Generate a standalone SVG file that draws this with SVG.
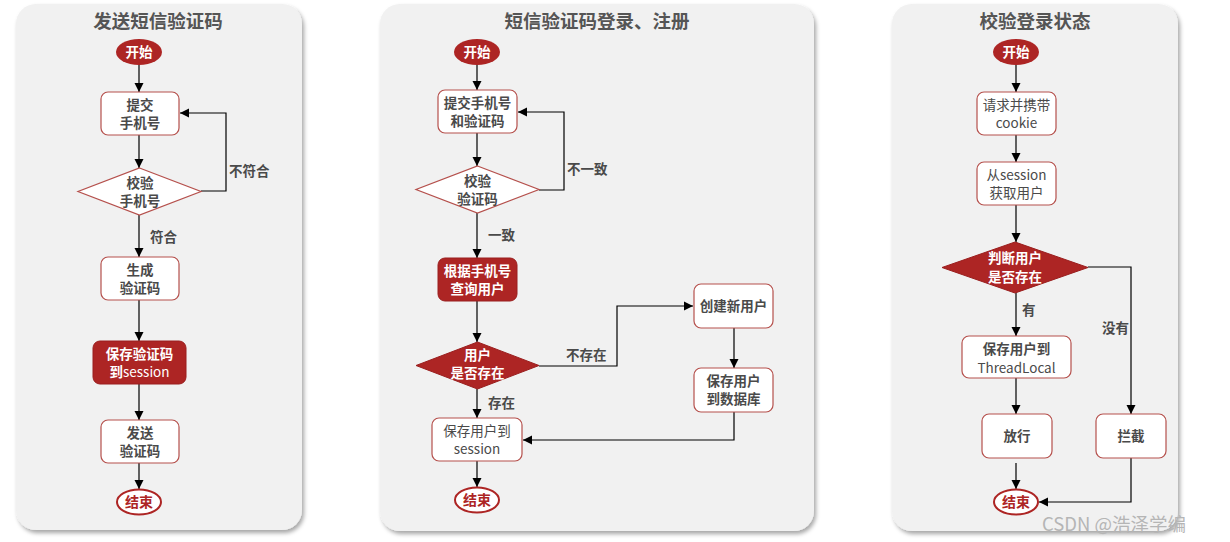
<svg xmlns="http://www.w3.org/2000/svg" width="1230" height="542" viewBox="0 0 1230 542">
<defs>
<filter id="sh" x="-5%" y="-5%" width="115%" height="115%">
<feDropShadow dx="2" dy="3" stdDeviation="2" flood-color="#000" flood-opacity="0.35"/>
</filter>
<marker id="ar" markerWidth="10" markerHeight="10" refX="9" refY="5" orient="auto" markerUnits="userSpaceOnUse">
<path d="M0,0.5 L9,5 L0,9.5 Z" fill="#000"/>
</marker>
</defs>
<style>
text{font-family:"Noto Sans CJK SC","Noto Sans",sans-serif;}
.panel{fill:#f1f1f1;filter:url(#sh);}
.title{font-size:18.5px;font-weight:bold;fill:#555;text-anchor:middle;}
.box{fill:#fff;stroke:#b5504c;stroke-width:1.2;}
.rbox{fill:#ad2524;stroke:#9a1e1e;stroke-width:1;}
.start{fill:#ad2524;}
.end{fill:#fff;stroke:#ad2524;stroke-width:2;}
.t{font-size:13.5px;font-weight:bold;fill:#4a4a4a;text-anchor:middle;dominant-baseline:central;}
.tn{font-size:13.5px;fill:#4a4a4a;text-anchor:middle;dominant-baseline:central;}
.tw{font-size:13.5px;font-weight:bold;fill:#fff;text-anchor:middle;dominant-baseline:central;}
.tr{font-size:14px;font-weight:bold;fill:#ad2524;text-anchor:middle;dominant-baseline:central;}
.lbl{font-size:13.5px;font-weight:bold;fill:#4a4a4a;dominant-baseline:central;}
.c{fill:none;stroke:#000;stroke-width:1.2;marker-end:url(#ar);}
.wm{font-size:18.5px;fill:#b5b5b5;}
</style>

<rect class="panel" x="16" y="4" width="286" height="526" rx="20"/>
<rect class="panel" x="380" y="4" width="434" height="527" rx="20"/>
<rect class="panel" x="892" y="4" width="286" height="527" rx="20"/>

<text class="title" x="158" y="28">发送短信验证码</text>
<text class="title" x="597" y="28">短信验证码登录、注册</text>
<text class="title" x="1035" y="28">校验登录状态</text>

<g id="connectors">
<path class="c" d="M139,65 V92"/>
<path class="c" d="M139,135 V168"/>
<path class="c" d="M201,191 H226 V113 H180"/>
<path class="c" d="M139,215 V257"/>
<path class="c" d="M139,300 V341"/>
<path class="c" d="M139,384 V420"/>
<path class="c" d="M139,463 V489"/>

<path class="c" d="M477,65 V90"/>
<path class="c" d="M477,133 V166"/>
<path class="c" d="M539,190 H564 V112 H518"/>
<path class="c" d="M477,213 V258"/>
<path class="c" d="M477,301 V342"/>
<path class="c" d="M539,366 H617 V306 H693"/>
<path class="c" d="M734,328 V368"/>
<path class="c" d="M734,412 V440 H523"/>
<path class="c" d="M477,389 V418"/>
<path class="c" d="M477,461 V487"/>

<path class="c" d="M1016,65 V92"/>
<path class="c" d="M1016,135 V162"/>
<path class="c" d="M1016,205 V242"/>
<path class="c" d="M1088,267 H1131 V414"/>
<path class="c" d="M1016,293 V336"/>
<path class="c" d="M1016,378 V414"/>
<path class="c" d="M1016,463 V489"/>
<path class="c" d="M1131,458 V502 H1039"/>

<text class="lbl" x="229" y="170">不符合</text>
<text class="lbl" x="150" y="236">符合</text>
<text class="lbl" x="567" y="168">不一致</text>
<text class="lbl" x="488" y="234">一致</text>
<text class="lbl" x="566" y="354">不存在</text>
<text class="lbl" x="488" y="402">存在</text>
<text class="lbl" x="1022" y="309">有</text>
<text class="lbl" x="1102" y="327">没有</text>
</g>

<g id="p1-start"><ellipse class="start" cx="139" cy="52" rx="23" ry="13"/><text class="tw" x="139" y="51">开始</text></g>
<g id="p1-submit"><rect class="box" x="101" y="92" width="78" height="43" rx="7"/><text class="t" x="140" y="103.5">提交</text><text class="t" x="140" y="122">手机号</text></g>
<g id="p1-check"><polygon class="box" points="139.5,168 201,191.5 139.5,215 78,191.5"/><text class="t" x="140" y="181.5">校验</text><text class="t" x="140" y="200">手机号</text></g>
<g id="p1-gen"><rect class="box" x="101" y="257" width="78" height="43" rx="7"/><text class="t" x="140" y="268.5">生成</text><text class="t" x="140" y="287">验证码</text></g>
<g id="p1-save"><rect class="rbox" x="93" y="341" width="93" height="43" rx="7"/><text class="tw" x="139.5" y="352.5">保存验证码</text><text class="tw" x="139.5" y="371">到<tspan font-weight="normal">session</tspan></text></g>
<g id="p1-send"><rect class="box" x="101" y="420" width="78" height="43" rx="7"/><text class="t" x="140" y="431.5">发送</text><text class="t" x="140" y="450">验证码</text></g>
<g id="p1-end"><ellipse class="end" cx="139" cy="502" rx="22" ry="12.5"/><text class="tr" x="139" y="501">结束</text></g>

<g id="p2-start"><ellipse class="start" cx="477" cy="52" rx="23" ry="13"/><text class="tw" x="477" y="51">开始</text></g>
<g id="p2-submit"><rect class="box" x="438" y="90" width="79" height="43" rx="7"/><text class="t" x="477.5" y="101.5">提交手机号</text><text class="t" x="477.5" y="120">和验证码</text></g>
<g id="p2-check"><polygon class="box" points="477.5,166 539,189.5 477.5,213 416,189.5"/><text class="t" x="477.5" y="179.5">校验</text><text class="t" x="477.5" y="198">验证码</text></g>
<g id="p2-query"><rect class="rbox" x="438" y="258" width="79" height="43" rx="7"/><text class="tw" x="477.5" y="269.5">根据手机号</text><text class="tw" x="477.5" y="288">查询用户</text></g>
<g id="p2-exists"><polygon class="rbox" points="477.5,342 539,365.5 477.5,389 416,365.5"/><text class="tw" x="477.5" y="353.5">用户</text><text class="tw" x="477.5" y="372">是否存在</text></g>
<g id="p2-create"><rect class="box" x="694" y="284" width="79" height="44" rx="7"/><text class="t" x="733.5" y="305">创建新用户</text></g>
<g id="p2-savedb"><rect class="box" x="694" y="368" width="79" height="44" rx="7"/><text class="t" x="733.5" y="379.5">保存用户</text><text class="t" x="733.5" y="398">到数据库</text></g>
<g id="p2-savesess"><rect class="box" x="432" y="418" width="90" height="43" rx="7"/><text class="tn" x="477" y="429.5">保存用户到</text><text class="tn" x="477" y="448">session</text></g>
<g id="p2-end"><ellipse class="end" cx="477" cy="500" rx="22" ry="12.5"/><text class="tr" x="477" y="499">结束</text></g>

<g id="p3-start"><ellipse class="start" cx="1016" cy="52" rx="23" ry="13"/><text class="tw" x="1016" y="51">开始</text></g>
<g id="p3-req"><rect class="box" x="977" y="92" width="79" height="43" rx="7"/><text class="tn" x="1016.5" y="103.5">请求并携带</text><text class="tn" x="1016.5" y="122">cookie</text></g>
<g id="p3-get"><rect class="box" x="977" y="162" width="79" height="43" rx="7"/><text class="tn" x="1016.5" y="173.5">从session</text><text class="tn" x="1016.5" y="192">获取用户</text></g>
<g id="p3-judge"><polygon class="rbox" points="1015,242 1088,267.5 1015,293 942,267.5"/><text class="tw" x="1015" y="257">判断用户</text><text class="tw" x="1015" y="276">是否存在</text></g>
<g id="p3-save"><rect class="box" x="962" y="336" width="109" height="42" rx="7"/><text class="t" x="1016.5" y="348">保存用户到</text><text class="tn" x="1016.5" y="366.5">ThreadLocal</text></g>
<g id="p3-pass"><rect class="box" x="982" y="414" width="70" height="44" rx="7"/><text class="t" x="1017" y="435">放行</text></g>
<g id="p3-block"><rect class="box" x="1096" y="414" width="70" height="44" rx="7"/><text class="t" x="1131" y="435">拦截</text></g>
<g id="p3-end"><ellipse class="end" cx="1016" cy="502" rx="22" ry="12.5"/><text class="tr" x="1016" y="501">结束</text></g>

<text class="wm" x="1042" y="531">CSDN @浩泽学编</text>
</svg>
